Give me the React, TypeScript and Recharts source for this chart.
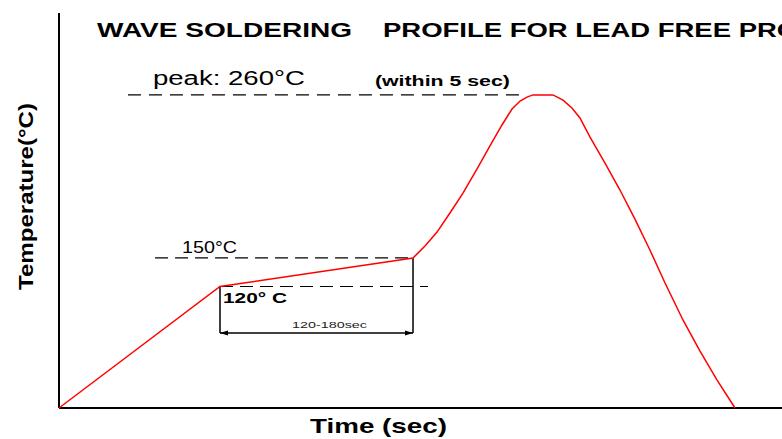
import React from 'react';
import { LineChart, Line, XAxis, YAxis, ReferenceLine } from 'recharts';

// ---- data (schematic profile) ----
const timeSec = [
  0, 124.7, 274.2, 283.5, 292.8, 302.8, 312.9, 323.8, 333.8, 343.1, 350.9,
  357.1, 362.5, 367.1, 382.6, 390.4, 397.3, 403.5, 411.3, 422.9, 434.5,
  446.1, 457.7, 469.4, 483.3, 496.5, 509.6, 523.6,
];
const tempC = [
  0, 100.9, 124.6, 134.5, 146.1, 161.9, 178.5, 198.5, 217.6, 235.0, 248.3,
  254.9, 258.2, 260, 260, 255.7, 249.1, 240.8, 225.0, 203.4, 181.0,
  156.9, 131.2, 103.8, 73.1, 47.3, 23.3, 0,
];
const profile = timeSec.map((t, i) => ({ t, temp: tempC[i] }));

const xDomain = [0, 560];
const yDomain = [0, 328];

// reference levels (as drawn)
const peakLevel = 260;
const peakLineFrom = 53.4;
const peakLineTo = 362.5;
const upperSoakLevel = 124.6; // drawn "150°C" level
const upperLineFrom = 74.4;
const lowerSoakLevel = 100.9; // drawn "120°C" level
const lowerLineTo = 285.8;
const soakStart = 124.7;
const soakEnd = 274.2;
const spanLevel = 62.3;

// texts
const titleA = 'WAVE SOLDERING';
const titleB = 'PROFILE FOR LEAD FREE PROCESS';
const peakText = 'peak: 260°C';
const withinText = '(within 5 sec)';
const upperText = '150°C';
const lowerText = '120° C';
const spanText = '120-180sec';
const yTitle = 'Temperature(°C)';
const xTitle = 'Time (sec)';

const FONT = '"Liberation Sans", Arial, Helvetica, sans-serif';

const Txt = (p: any) => (
  <text
    x={p.x}
    y={p.y}
    fontSize={p.size}
    fontWeight={p.weight || 'normal'}
    fontFamily={FONT}
    fill={p.fill || '#000'}
    textAnchor={p.anchor || 'start'}
    textLength={p.len}
    lengthAdjust="spacingAndGlyphs"
    transform={p.transform}
    dominantBaseline={p.baseline}
  >
    {p.children}
  </text>
);

const PeakLabel = (props: any) => {
  const { x, y } = props.viewBox;
  return (
    <g>
      <Txt x={x + 25} y={y - 10} size={20} len={152}>{peakText}</Txt>
      <Txt x={x + 247} y={y - 9} size={15} weight="bold" len={135}>{withinText}</Txt>
    </g>
  );
};

const UpperLabel = (props: any) => {
  const { x, y } = props.viewBox;
  return <Txt x={x + 27} y={y - 5} size={16} len={55}>{upperText}</Txt>;
};

const LowerLabel = (props: any) => {
  const { x, y } = props.viewBox;
  return <Txt x={x + 3} y={y + 16.5} size={15} weight="bold" len={64}>{lowerText}</Txt>;
};

const SpanLabel = (props: any) => {
  const { x, y } = props.viewBox;
  return <Txt x={x + 72} y={y - 5} size={9} len={75} fill="#222">{spanText}</Txt>;
};

const SpanArrow = (props: any) => {
  const { x1, y1, x2 } = props;
  const a = Math.min(x1, x2);
  const b = Math.max(x1, x2);
  return (
    <g>
      <line x1={a} y1={y1} x2={b} y2={y1} stroke="#000" strokeWidth={1.5} />
      <path d={`M${a},${y1} l8,-2.5 v5 z`} fill="#000" />
      <path d={`M${b},${y1} l-8,-2.5 v5 z`} fill="#000" />
    </g>
  );
};

const YTitle = (props: any) => {
  const { x, y } = props.viewBox;
  const cx = x - 34;
  const cy = y + 183.5;
  return (
    <Txt x={cx} y={cy} size={21} weight="bold" len={187} anchor="middle" baseline="central" transform={`rotate(-90 ${cx} ${cy})`}>
      {yTitle}
    </Txt>
  );
};

const XTitle = (props: any) => {
  const { x, y } = props.viewBox;
  return <Txt x={x + 319.5} y={y + 25} size={21} weight="bold" len={137} anchor="middle">{xTitle}</Txt>;
};

export default function App() {
  return (
    <div style={{ position: 'absolute', left: 0, top: 0, width: 782, height: 439, overflow: 'hidden', background: '#fff' }}>
      <LineChart width={782} height={439} data={profile} margin={{ top: 13, right: 0, bottom: 31, left: 59 }}>
        <XAxis dataKey="t" type="number" domain={xDomain} hide />
        <YAxis type="number" domain={yDomain} hide />
        <ReferenceLine x={0} stroke="#000" strokeWidth={2} label={<YTitle />} />
        <ReferenceLine y={0} stroke="#000" strokeWidth={2} label={<XTitle />} />
        <ReferenceLine
          segment={[{ x: peakLineFrom, y: peakLevel }, { x: peakLineTo, y: peakLevel }]}
          stroke="#000"
          strokeWidth={1.2}
          strokeDasharray="13 8"
          label={<PeakLabel />}
        />
        <ReferenceLine
          segment={[{ x: upperLineFrom, y: upperSoakLevel }, { x: soakEnd, y: upperSoakLevel }]}
          stroke="#000"
          strokeWidth={1.2}
          strokeDasharray="13 7"
          label={<UpperLabel />}
        />
        <ReferenceLine
          segment={[{ x: soakStart, y: lowerSoakLevel }, { x: lowerLineTo, y: lowerSoakLevel }]}
          stroke="#000"
          strokeWidth={1.2}
          strokeDasharray="13 7"
          label={<LowerLabel />}
        />
        <ReferenceLine
          segment={[{ x: soakStart, y: lowerSoakLevel }, { x: soakStart, y: spanLevel }]}
          stroke="#000"
          strokeWidth={1.5}
        />
        <ReferenceLine
          segment={[{ x: soakEnd, y: upperSoakLevel }, { x: soakEnd, y: spanLevel }]}
          stroke="#000"
          strokeWidth={1.5}
        />
        <ReferenceLine
          segment={[{ x: soakStart, y: spanLevel }, { x: soakEnd, y: spanLevel }]}
          shape={<SpanArrow />}
          label={<SpanLabel />}
        />
        <Line
          type="linear"
          dataKey="temp"
          stroke="#ff0000"
          strokeWidth={1.5}
          dot={false}
          activeDot={false}
          isAnimationActive={false}
        />
        <text y={37} fontFamily={FONT} fontSize={21} fontWeight="bold" fill="#000">
          <tspan x={97} textLength={255} lengthAdjust="spacingAndGlyphs">{titleA}</tspan>
          <tspan x={383} textLength={490} lengthAdjust="spacingAndGlyphs">{titleB}</tspan>
        </text>
      </LineChart>
    </div>
  );
}
